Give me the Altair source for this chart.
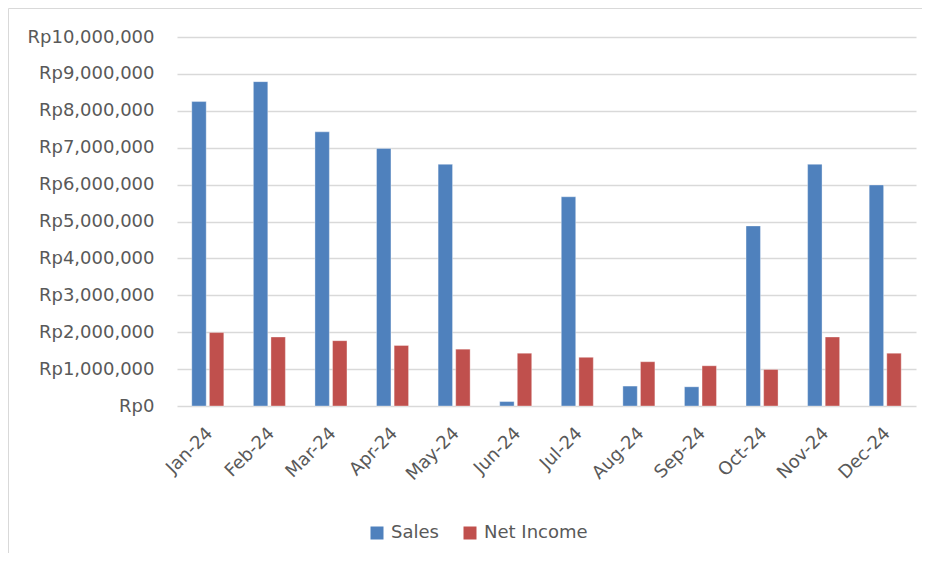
import altair as alt
import pandas as pd

months = ["Jan-24", "Feb-24", "Mar-24", "Apr-24", "May-24", "Jun-24",
          "Jul-24", "Aug-24", "Sep-24", "Oct-24", "Nov-24", "Dec-24"]
sales = [8250000, 8790000, 7430000, 6980000, 6550000, 120000,
         5670000, 540000, 520000, 4880000, 6550000, 5990000]
net_income = [1990000, 1870000, 1770000, 1640000, 1540000, 1430000,
              1320000, 1200000, 1090000, 990000, 1870000, 1430000]
series = ["Sales", "Net Income"]
colors = ["#4F81BD", "#C0504D"]

rows = []
for m, s, n in zip(months, sales, net_income):
    rows.append({"Month": m, "Series": "Sales", "Value": s})
    rows.append({"Month": m, "Series": "Net Income", "Value": n})
df = pd.DataFrame(rows)

FONT = "DejaVu Sans"
GRAY = "#595959"
W, H = 739, 369
OX, OY = 177, 37  # plot origin on page (used only for frame decoration)

bars = alt.Chart(df).mark_bar(
    stroke="white", strokeOpacity=0.35, strokeWidth=1
).encode(
    x=alt.X("Month:N", sort=months, title=None,
            scale=alt.Scale(paddingInner=0.48, paddingOuter=0.24),
            axis=alt.Axis(labelAngle=-45, labelFontSize=18, labelColor=GRAY,
                          labelFont=FONT, domain=False, ticks=False, tickSize=0,
                          labelPadding=18, labelOffset=-4, grid=False,
                          labelOverlap=False)),
    xOffset=alt.XOffset("Series:N", sort=series,
                        scale=alt.Scale(paddingInner=0.18)),
    y=alt.Y("Value:Q", title=None,
            scale=alt.Scale(domain=[0, 10000000], nice=False),
            axis=alt.Axis(values=[i * 1000000 for i in range(11)],
                          labelExpr="'Rp' + format(datum.value, ',')",
                          labelFontSize=18, labelColor=GRAY, labelFont=FONT,
                          domain=False, ticks=False, tickSize=0, labelPadding=23,
                          labelOverlap=False,
                          grid=True, gridColor="#D9D9D9", gridWidth=1.3)),
    color=alt.Color("Series:N", sort=series,
                    scale=alt.Scale(domain=series, range=colors),
                    legend=alt.Legend(title=None, orient="none",
                                      direction="horizontal",
                                      legendX=368 - OX, legendY=524 - OY,
                                      symbolType="square", symbolSize=169,
                                      symbolStrokeWidth=0,
                                      labelFontSize=18, labelColor=GRAY,
                                      labelFont=FONT, labelOffset=5,
                                      columnPadding=22, padding=0)),
)

frame_src = pd.DataFrame({"a": [0]})
top_edge = alt.Chart(frame_src).mark_rule(color="#D9D9D9", strokeWidth=1).encode(
    x=alt.value(8.5 - OX), x2=alt.value(922 - OX), y=alt.value(8.5 - OY)
)
left_edge = alt.Chart(frame_src).mark_rule(color="#D9D9D9", strokeWidth=1).encode(
    x=alt.value(8.5 - OX), y=alt.value(8.5 - OY), y2=alt.value(553 - OY)
)

chart = alt.layer(top_edge, left_edge, bars).properties(
    width=W, height=H, padding=0, background="white"
).configure_view(strokeWidth=0, stroke="transparent")

chart.save("out.html", embed_options={"renderer": "svg", "actions": False})
